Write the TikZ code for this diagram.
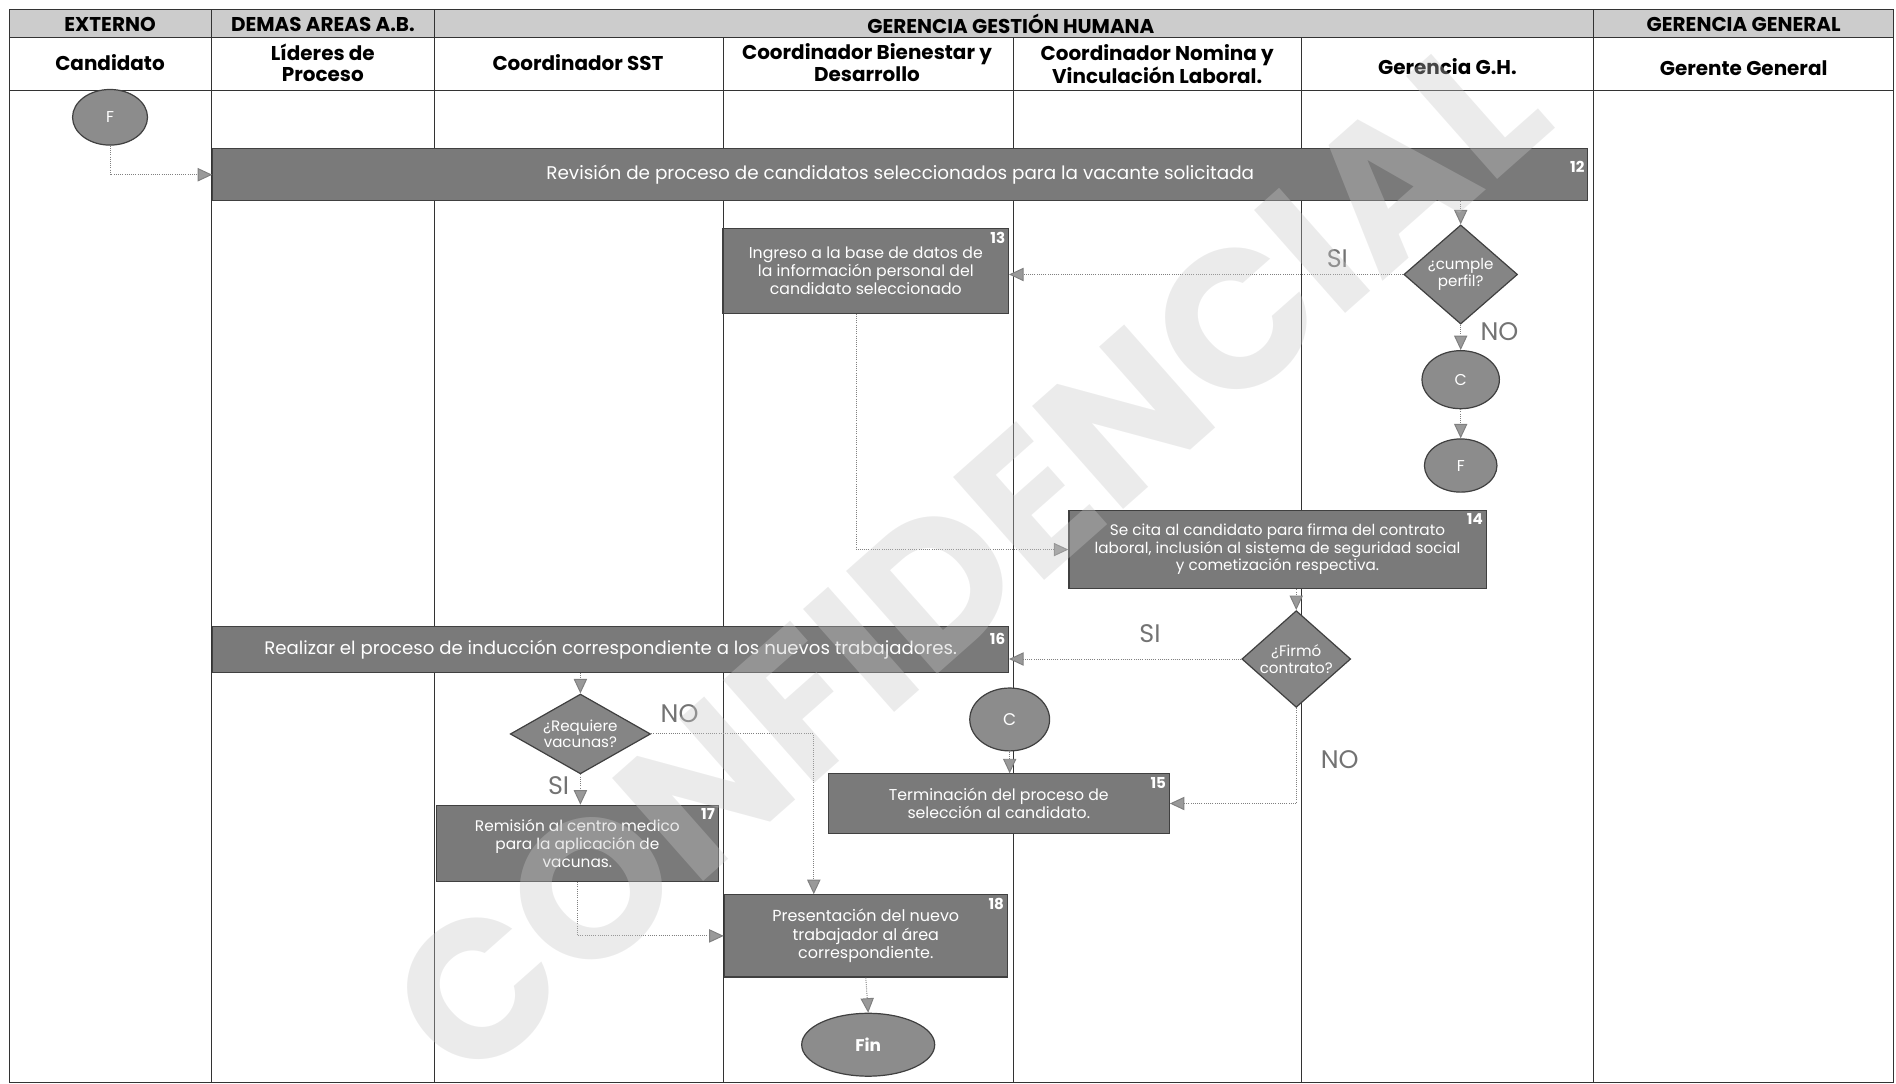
\documentclass[tikz,border=0pt]{standalone}
\usepackage{fontspec}
\setmainfont{Poppins}
\usepackage{tikz}
\usetikzlibrary{shapes.geometric,arrows.meta}

\begin{document}
\begin{tikzpicture}[x=1pt, y=-1pt,
    % node attributes
    lane/.style = {draw=black!80, line width=0.8pt},
    head/.style = {align=center, font=\fontsize{16.5}{18}\selectfont\bfseries},
    task/.style = {
        shape=rectangle,
        draw=black!75,
        line width=1pt,
        fill=black!52,
        text=white,
        align=center,
        inner sep=2pt,
        font=\fontsize{13}{15}\selectfont},
    num/.style = {anchor=north east, text=white, inner sep=3pt,
        font=\fontsize{12.5}{13}\selectfont\bfseries},
    decision/.style = {
        shape=diamond,
        draw=black!75,
        line width=1pt,
        fill=black!48,
        text=white,
        align=center,
        inner sep=0pt,
        font=\fontsize{12.5}{13.5}\selectfont},
    link/.style = {
        shape=ellipse,
        draw=black!75,
        line width=1pt,
        fill=black!45,
        text=white,
        inner sep=0pt,
        font=\fontsize{13}{13}\selectfont},
    answer/.style = {text=black!55, font=\fontsize{21}{21}\selectfont},
    arr/.style = {draw=black!50, densely dotted, line width=0.8pt,
        -{Triangle[width=11pt,length=12pt,fill=black!40]}}]
    \useasboundingbox (0,0) rectangle (1568,896);
    % swimlanes
    \fill[black!20] (8,8) rectangle (1566,31);
    \draw[lane] (8,8) rectangle (1566,895);
    \draw[lane] (8,31) -- (1566,31);
    \draw[lane] (8,75) -- (1566,75);
    \foreach \x in {175,359,1318} \draw[lane] (\x,8) -- (\x,895);
    \foreach \x in {598,838,1076} \draw[lane] (\x,31) -- (\x,895);
    % lane headers
    \node[head] (hExt) at (91,20) {EXTERNO};
    \node[head] (hDem) at (267,20) {DEMAS AREAS A.B.};
    \node[head] (hGgh) at (836,20) {GERENCIA GESTIÓN HUMANA};
    \node[head] (hGg) at (1442,20) {GERENCIA GENERAL};
    \node[head] (hCand) at (91,52) {Candidato};
    \node[head] (hLid) at (267,52) {Líderes de\\Proceso};
    \node[head] (hSst) at (478,52) {Coordinador SST};
    \node[head] (hBie) at (717,52) {Coordinador Bienestar y\\Desarrollo};
    \node[head] (hNom) at (957,53) {Coordinador Nomina y\\Vinculación Laboral.};
    \node[head] (hGer) at (1197,55) {Gerencia G.H.};
    \node[head] (hGen) at (1442,56) {Gerente General};
    % flow
    \node[link, minimum width=62, minimum height=46] (F1) at (91,97) {F};
    \node[task, minimum width=1137, minimum height=43,
        font=\fontsize{15.2}{17}\selectfont] (b12) at (744.5,144.5)
        {Revisión de proceso de candidatos seleccionados para la vacante solicitada};
    \node[num, yshift=-8] (n12) at (b12.north east) {12};
    \node[task, minimum width=236, minimum height=70] (b13) at (716,224)
        {Ingreso a la base de datos de\\la información personal del\\candidato seleccionado};
    \node[num] (n13) at (b13.north east) {13};
    \node[decision, aspect=1.1, minimum width=94, minimum height=82] (d1) at (1208,227)
        {¿cumple\\perfil?};
    \node[link, minimum width=64, minimum height=48] (C1) at (1208,314) {C};
    \node[link, minimum width=60, minimum height=44] (F2) at (1208,385) {F};
    \node[task, minimum width=345, minimum height=65,
        font=\fontsize{12.6}{14.5}\selectfont] (b14) at (1056.5,454.5)
        {Se cita al candidato para firma del contrato\\laboral, inclusión al sistema de seguridad social\\y cometización respectiva.};
    \node[num] (n14) at (b14.north east) {14};
    \node[decision, aspect=1.1, minimum width=90, minimum height=80] (d2) at (1072,545)
        {¿Firmó\\contrato?};
    \node[task, minimum width=658, minimum height=38,
        font=\fontsize{15}{17}\selectfont] (b16) at (505,537)
        {Realizar el proceso de inducción correspondiente a los nuevos trabajadores.};
    \node[num, yshift=-3] (n16) at (b16.north east) {16};
    \node[decision, aspect=1.6, minimum width=116, minimum height=66] (d3) at (480,607)
        {¿Requiere\\vacunas?};
    \node[task, minimum width=233, minimum height=63,
        font=\fontsize{12.7}{15}\selectfont] (b17) at (477.5,697.5)
        {Remisión al centro medico\\para la aplicación de\\vacunas.};
    \node[num] (n17) at (b17.north east) {17};
    \node[link, minimum width=66, minimum height=52, font=\fontsize{14}{14}\selectfont] (C2) at (835,595) {C};
    \node[task, minimum width=282, minimum height=49] (b15) at (826,664.5)
        {Terminación del proceso de\\selección al candidato.};
    \node[num] (n15) at (b15.north east) {15};
    \node[task, minimum width=234, minimum height=68,
        font=\fontsize{13.2}{15.5}\selectfont] (b18) at (716,774)
        {Presentación del nuevo\\trabajador al área\\correspondiente.};
    \node[num] (n18) at (b18.north east) {18};
    \node[link, minimum width=110, minimum height=52,
        font=\fontsize{14}{14}\selectfont\bfseries] (fin) at (718,864) {Fin};
    % connectors
    \draw[arr] (F1.south) |- (b12.west);
    \draw[arr] (d1.north |- b12.south) -- (d1.north);
    \draw[arr] (d1.west) -- (d1.west -| b13.east);
    \draw[arr] (d1.south) -- (C1.north);
    \draw[arr] (C1.south) -- (F2.north);
    \draw[arr] ([xshift=-8]b13.south) |- (b14.west);
    \draw[arr] (d2.north |- b14.south) -- (d2.north);
    \draw[arr] (d2.west) -- (d2.west -| b16.east);
    \draw[arr] (d2.south) |- (b15.east);
    \draw[arr] (d3.north |- b16.south) -- (d3.north);
    \draw[arr] (d3.east) -| ([xshift=-43]b18.north);
    \draw[arr] (d3.south) -- (d3.south |- b17.north);
    \draw[arr] (b17.south) |- (b18.west);
    \draw[arr] (C2.south) -- (C2.south |- b15.north);
    \draw[arr] (b18.south) -- (fin.north);
    % answers
    \node[answer] (si1) at (1106,214) {SI};
    \node[answer] (no1) at (1240,274) {NO};
    \node[answer] (si2) at (951,524) {SI};
    \node[answer] (no2) at (1108,628) {NO};
    \node[answer] (no3) at (562,590) {NO};
    \node[answer] (si3) at (462,650) {SI};
    % watermark
    \node[rotate=41.5, text=black!22, opacity=0.35,
        font=\fontsize{162}{162}\selectfont\bfseries] (wm) at (800,460) {CONFIDENCIAL};
\end{tikzpicture}
\end{document}
